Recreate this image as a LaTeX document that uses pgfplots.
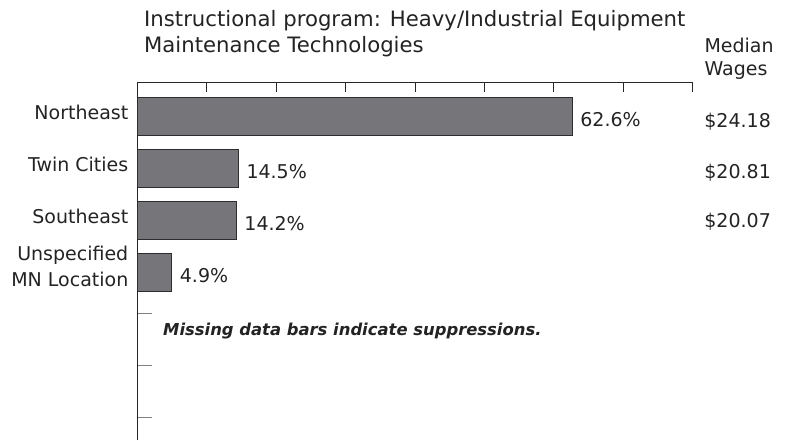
\documentclass[border=0pt]{standalone}
\usepackage{fontspec}
\setmainfont{DejaVu Sans}
\usepackage{pgfplots}
\pgfplotsset{compat=1.18}
\definecolor{barfill}{RGB}{118,118,122}
\definecolor{baredge}{RGB}{45,45,45}
\definecolor{txt}{RGB}{35,35,35}
\begin{document}
\fontsize{19}{26}\selectfont
\begin{tikzpicture}[x=1pt,y=1pt]
\useasboundingbox (0,0) rectangle (786,440);
\node[anchor=base west, text=txt, inner sep=0pt, font=\fontsize{21.2}{26}\selectfont] at (144,413) {Instructional program: Heavy/Industrial Equipment};
\node[anchor=base west, text=txt, inner sep=0pt, font=\fontsize{21.2}{26}\selectfont] at (144,387) {Maintenance Technologies};
\node[anchor=base west, text=txt, inner sep=0pt] at (704.3,387) {Median};
\node[anchor=base west, text=txt, inner sep=0pt] at (704.3,364) {Wages};
\begin{axis}[
  at={(137.5pt,0pt)}, anchor=south west,
  width=555.2pt, height=357.8pt, scale only axis,
  xmin=0, xmax=80, ymin=-6.23, ymax=0.65,
  axis x line*=top, axis y line*=left,
  axis line style={draw=black!85, line width=0.8pt},
  tick align=inside,
  xtick={0,10,...,80}, xticklabels={},
  ytick={-3.8,-4.8,-5.8}, yticklabels={},
  xtick style={/pgfplots/major tick length=10pt, draw=black!85, line width=0.8pt},
  ytick style={/pgfplots/major tick length=14pt, xshift=14pt, draw=black!50, line width=0.8pt},
  clip=false,
  xbar, bar width=38pt,
  point meta=explicit symbolic,
  nodes near coords,
  every node near coord/.append style={anchor=west, inner sep=0pt, xshift=8pt, yshift=-4pt, text=txt, font=\fontsize{19}{23}\selectfont},
]
\addplot[fill=barfill, draw=baredge, line width=0.8pt] coordinates {
  (62.6,0) [62.6\%]
  (14.5,-1) [14.5\%]
  (14.2,-2) [14.2\%]
  (4.9,-3) [4.9\%]
};
\node[anchor=east, inner sep=0pt, text=txt] at (axis cs:0,0) [xshift=-9pt, yshift=4pt] {Northeast};
\node[anchor=east, inner sep=0pt, text=txt] at (axis cs:0,-1) [xshift=-9pt, yshift=4pt] {Twin Cities};
\node[anchor=east, inner sep=0pt, text=txt] at (axis cs:0,-2) [xshift=-9pt, yshift=4pt] {Southeast};
\node[anchor=east, inner sep=0pt, text=txt, align=right] at (axis cs:0,-3) [xshift=-9pt, yshift=6pt] {Unspecified\\MN Location};
\node[anchor=west, inner sep=0pt, text=txt] at (axis cs:80,0) [xshift=11.5pt, yshift=-6pt] {\$24.18};
\node[anchor=west, inner sep=0pt, text=txt] at (axis cs:80,-1) [xshift=11.5pt, yshift=-4.5pt] {\$20.81};
\node[anchor=west, inner sep=0pt, text=txt] at (axis cs:80,-2) [xshift=11.5pt, yshift=-1.7pt] {\$20.07};
\node[anchor=base west, inner sep=0pt, text=txt, font=\fontsize{16.4}{20}\selectfont\bfseries\itshape] at (axis cs:0,-4.23) [xshift=25.5pt] {Missing data bars indicate suppressions.};
\end{axis}
\end{tikzpicture}
\end{document}
